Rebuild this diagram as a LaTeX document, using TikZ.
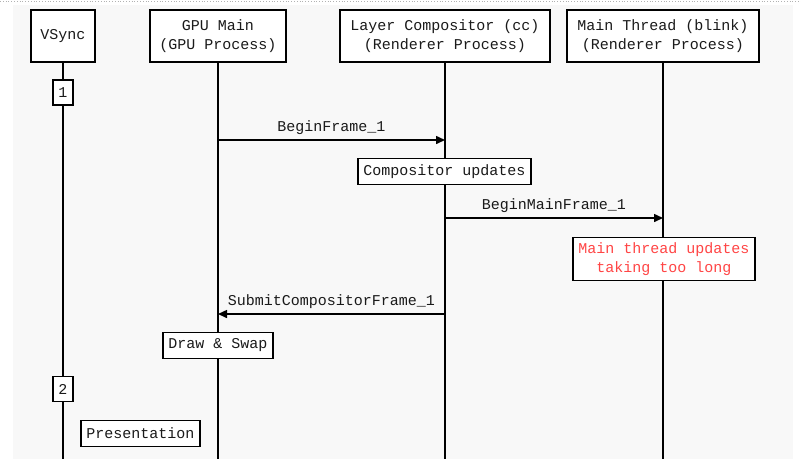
\documentclass[tikz,border=0pt]{standalone}
\usepackage{fontspec}
\setmonofont{Liberation Mono}
\usetikzlibrary{arrows.meta}
\definecolor{bgc}{HTML}{F8F8F8}
\definecolor{txt}{HTML}{1A1A1A}
\definecolor{redtxt}{HTML}{FF4545}
\tikzset{
  base/.style={font=\ttfamily\fontsize{15}{19}\selectfont, text=txt, align=center},
  head/.style={base, draw=black, line width=2pt, fill=white, minimum height=52pt, inner sep=0pt},
  note/.style={base, draw=black, line width=1.9pt, fill=white, minimum height=26pt, inner sep=0pt},
  numbox/.style={base, draw=black, line width=1.9pt, fill=white, minimum width=20pt, minimum height=25pt, inner sep=0pt},
  life/.style={draw=black, line width=1.8pt},
  msg/.style={draw=black, line width=1.5pt, -{Triangle[length=9pt,width=8pt]}},
  lbl/.style={base, inner sep=0pt}
}
\begin{document}
\begin{tikzpicture}[x=1pt,y=-1pt]
\useasboundingbox (0,0) rectangle (801,459);
\fill[bgc] (13,5) rectangle (793,459);
\draw[gray!60, line width=0.8pt, dotted] (0,1.5) -- (801,1.5);

% heads
\node[head, minimum width=64pt] (vs) at (63,36) {VSync};
\node[head, minimum width=136pt] (gpu) at (218,36) {GPU Main\\(GPU Process)};
\node[head, minimum width=210pt] (cc) at (445,36) {Layer Compositor (cc)\\(Renderer Process)};
\node[head, minimum width=192pt] (mt) at (663,36) {Main Thread (blink)\\(Renderer Process)};

% lifeline ends
\coordinate (vsend) at (63,459);
\coordinate (gpuend) at (218,459);
\coordinate (ccend) at (445,459);
\coordinate (mtend) at (663,459);

\draw[life] (vs.south) -- (vsend);
\draw[life] (gpu.south) -- (gpuend);
\draw[life] (cc.south) -- (ccend);
\draw[life] (mt.south) -- (mtend);

% vsync ticks
\node[numbox] (v1) at (63,92.5) {1};
\node[numbox] (v2) at (63,389) {2};

% messages
\coordinate (bf1a) at (218,140);
\coordinate (bf1b) at (445,140);
\draw[msg] (bf1a) -- node[lbl, above=5pt] (bf1l) {BeginFrame\_1} (bf1b);

\node[note, minimum width=173pt] (cu) at (444.5,171.5) {Compositor updates};

\coordinate (bmfa) at (445,218);
\coordinate (bmfb) at (663,218);
\draw[msg] (bmfa) -- node[lbl, above=5pt] (bmfl) {BeginMainFrame\_1} (bmfb);

\node[note, minimum width=182pt, minimum height=43pt, text=redtxt] (mtu) at (664,259) {Main thread updates\\taking too long};

\coordinate (scfa) at (445,314);
\coordinate (scfb) at (218,314);
\draw[msg] (scfa) -- node[lbl, above=5pt] (scfl) {SubmitCompositorFrame\_1} (scfb);

\node[note, minimum width=110pt] (ds) at (218,345.5) {Draw \& Swap};

\node[note, minimum width=119pt] (pr) at (140.5,433.5) {Presentation};
\end{tikzpicture}
\end{document}
